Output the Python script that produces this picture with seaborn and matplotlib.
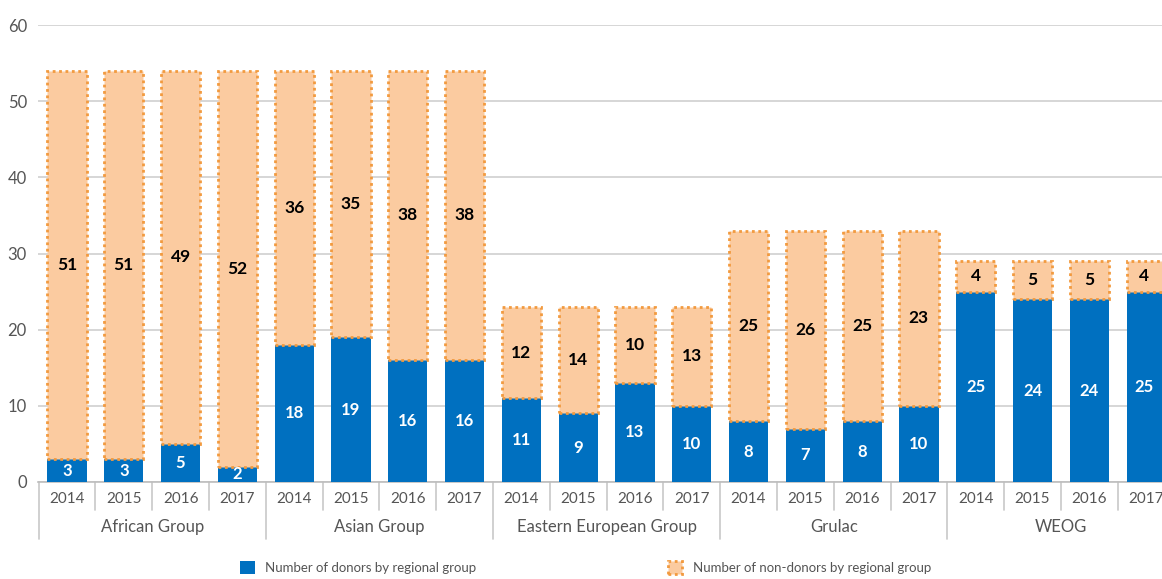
import numpy as np
import pandas as pd
import matplotlib.pyplot as plt
import seaborn as sns

# data
groups = ["African Group", "Asian Group", "Eastern European Group", "Grulac", "WEOG"]
years = ["2014", "2015", "2016", "2017"]
donors = [3, 3, 5, 2,
          18, 19, 16, 16,
          11, 9, 13, 10,
          8, 7, 8, 10,
          25, 24, 24, 25]
non_donors = [51, 51, 49, 52,
              36, 35, 38, 38,
              12, 14, 10, 13,
              25, 26, 25, 23,
              4, 5, 5, 4]

blue = "#0070C0"
peach = "#FBCBA0"
orange_edge = "#F29A3F"
grey_txt = "#555555"

df = pd.DataFrame({
    "group": np.repeat(groups, len(years)),
    "year": years * len(groups),
    "donors": donors,
    "non_donors": non_donors,
})
df["key"] = df["group"] + " " + df["year"]
order = list(df["key"])

sns.set_style("white")
plt.rcParams["font.family"] = ["Lato", "DejaVu Sans"]

fig = plt.figure(figsize=(11.62, 5.79), dpi=100)
ax = fig.add_axes([38 / 1162, 97 / 579, 1 - 38 / 1162, (482 - 25) / 579])

sns.barplot(data=df, x="key", y="donors", order=order, color=blue, width=0.69,
            saturation=1, errorbar=None, ax=ax, linewidth=0, zorder=3,
            label="Number of donors by regional group")
sns.barplot(data=df, x="key", y="non_donors", order=order, color=peach, width=0.69,
            saturation=1, errorbar=None, ax=ax, bottom=df["donors"].values,
            edgecolor=orange_edge, linewidth=2, linestyle=(0, (1, 1.3)), zorder=3,
            label="Number of non-donors by regional group")

handles, labels = ax.get_legend_handles_labels()
if ax.get_legend() is not None:
    ax.get_legend().remove()

ax.bar_label(ax.containers[0], label_type="center", color="white",
             fontsize=12, fontweight="bold")
ax.bar_label(ax.containers[1], label_type="center", color="black",
             fontsize=12.5, fontweight="bold")

ax.set_ylim(0, 60)
ax.set_xlim(-0.51, 19.28)
ax.set_yticks(range(0, 61, 10))
ax.yaxis.grid(True, color="#cfcfcf", linewidth=1.2, zorder=0)
ax.set_axisbelow(True)
ax.tick_params(axis="y", length=0, labelsize=12, labelcolor=grey_txt, pad=8)
for s in ["top", "right", "left"]:
    ax.spines[s].set_visible(False)
ax.spines["bottom"].set_color("#bdbdbd")
ax.spines["bottom"].set_linewidth(1.2)

ax.set_xlabel("")
ax.set_ylabel("")
ax.set_xticks(range(len(order)))
ax.set_xticklabels(df["year"])
ax.tick_params(axis="x", length=0, labelsize=11, labelcolor=grey_txt, pad=7)

# separators between years and between groups
trans = ax.get_xaxis_transform()
for i in range(len(order) + 1):
    x = i - 0.5
    depth = -0.125 if i % 4 == 0 else -0.062
    ax.plot([x, x], [0, depth], transform=trans, color="#c8c8c8",
            linewidth=1.2, clip_on=False)

for g, name in enumerate(groups):
    ax.text(g * 4 + 1.5, -0.098, name, transform=trans, ha="center", va="center",
            fontsize=12, color=grey_txt)

fig.legend(handles, labels, loc="lower center", bbox_to_anchor=(0.504, -0.012),
           ncol=2, frameon=False, handlelength=1.1, handleheight=1.1,
           columnspacing=14.5, fontsize=9.5, labelcolor=grey_txt)

fig.savefig("out.png", dpi=100)
